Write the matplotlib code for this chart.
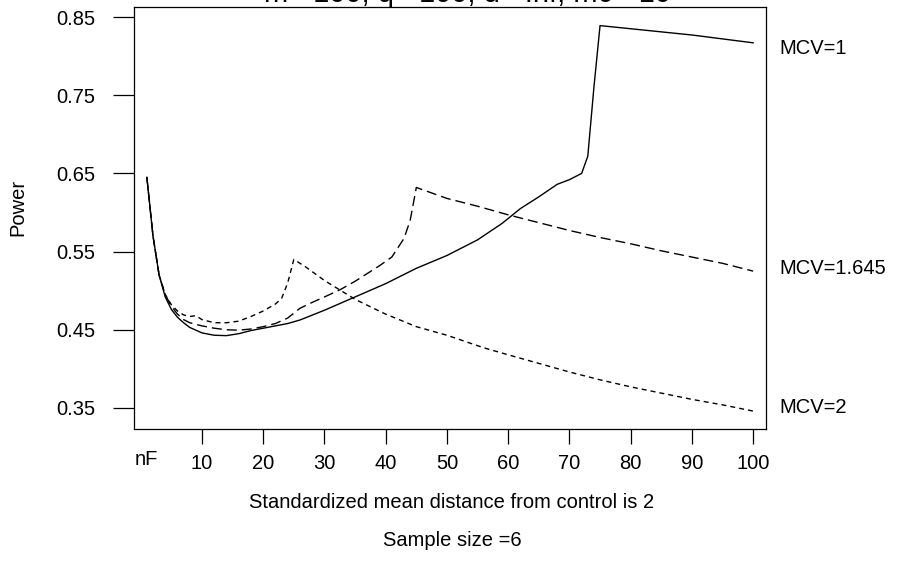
import matplotlib
matplotlib.use("Agg")
import matplotlib.pyplot as plt

plt.rcParams['font.family'] = ['Liberation Sans', 'DejaVu Sans']

# ---- data ----
x_mcv1 = [1, 2, 3, 4, 5, 6, 7, 8, 10, 12, 14, 16, 18, 20, 22, 24, 26, 30, 35, 40, 45,
          50, 55, 59, 62, 65, 68, 70, 72, 73, 74, 75, 80, 85, 90, 95, 100]
y_mcv1 = [0.645, 0.570, 0.520, 0.492, 0.476, 0.466, 0.459, 0.453, 0.446, 0.443, 0.4425,
          0.445, 0.449, 0.452, 0.455, 0.458, 0.4625, 0.475, 0.492, 0.509, 0.5286,
          0.545, 0.565, 0.586, 0.605, 0.620, 0.636, 0.642, 0.650, 0.672, 0.760, 0.839,
          0.835, 0.831, 0.827, 0.822, 0.817]

x_mcv1645 = [1, 2, 3, 4, 5, 6, 7, 8, 10, 12, 14, 16, 18, 20, 22, 24, 26, 28, 30, 32.5,
             35, 37, 39, 41, 43, 44, 45, 50, 55, 60, 65, 70, 75, 80, 85, 90, 95, 100]
y_mcv1645 = [0.645, 0.570, 0.520, 0.495, 0.480, 0.470, 0.463, 0.459, 0.455, 0.452,
             0.450, 0.4495, 0.451, 0.454, 0.458, 0.465, 0.4775, 0.485, 0.492, 0.501,
             0.512, 0.522, 0.532, 0.543, 0.567, 0.590, 0.632, 0.618, 0.608, 0.597,
             0.587, 0.577, 0.568, 0.560, 0.551, 0.543, 0.535, 0.525]

x_mcv2 = [1, 2, 3, 4, 5, 6, 7, 8, 9, 10, 12, 14, 16, 18, 20, 22, 23, 24, 25, 27, 30,
          32.5, 35, 38, 40, 45, 50, 56, 60, 65, 70, 75, 80, 85, 90, 95, 100]
y_mcv2 = [0.645, 0.570, 0.520, 0.495, 0.482, 0.474, 0.469, 0.467, 0.468, 0.463, 0.459,
          0.459, 0.461, 0.467, 0.474, 0.483, 0.490, 0.510, 0.540, 0.530, 0.513, 0.501,
          0.489, 0.4775, 0.470, 0.454, 0.443, 0.427, 0.418, 0.407, 0.396, 0.386, 0.377,
          0.369, 0.361, 0.354, 0.346]

series_labels = ["MCV=1", "MCV=1.645", "MCV=2"]
label_y = [0.810, 0.529, 0.350]

x_ticks = [10, 20, 30, 40, 50, 60, 70, 80, 90, 100]
y_ticks = [0.35, 0.45, 0.55, 0.65, 0.75, 0.85]

title = "m= 100, q= 100, d= Inf, m0= 10"
xlabel1 = "Standardized mean distance from control is 2"
xlabel2 = "Sample size =6"

# ---- figure ----
W, H = 900, 567
fig = plt.figure(figsize=(9, 5.67), dpi=100)
ax = fig.add_axes([134 / W, 1 - 429 / H, (766 - 134) / W, (429 - 7) / H])

lw = 1.0
ax.plot(x_mcv1, y_mcv1, color='black', lw=lw, solid_joinstyle='round')
ax.plot(x_mcv1645, y_mcv1645, color='black', lw=lw, dashes=(7.2, 3.6))
ax.plot(x_mcv2, y_mcv2, color='black', lw=lw, dashes=(3.6, 2.9))

ax.set_xlim(-1.1, 102.1)
ax.set_ylim(0.3231, 0.8628)

fs = 14.5
ax.set_xticks(x_ticks)
ax.set_xticklabels([str(t) for t in x_ticks], fontsize=fs)
ax.set_yticks(y_ticks)
ax.set_yticklabels([f"{t:.2f}" for t in y_ticks], fontsize=fs)
ax.tick_params(axis='x', direction='out', length=11, width=0.9, pad=7)
ax.tick_params(axis='y', direction='out', length=15, width=0.9, pad=13)
for s in ax.spines.values():
    s.set_linewidth(0.9)

# 'nF' label under x = 1 (no tick)
ax.text(1, -0.072, "nF", transform=ax.get_xaxis_transform(), ha='center', va='center',
        fontsize=fs)

# series labels at the right
blend = matplotlib.transforms.blended_transform_factory(fig.transFigure, ax.transData)
for lab, yy in zip(series_labels, label_y):
    ax.text(779 / W, yy, lab, transform=blend, ha='left', va='center', fontsize=fs)

fig.text(18 / W, 1 - 207 / H, "Power", rotation=90, ha='center', va='center', fontsize=fs)
fig.text(452 / W, 1 - 503 / H, xlabel1, ha='center', va='center', fontsize=fs)
fig.text(452 / W, 1 - 541 / H, xlabel2, ha='center', va='center', fontsize=fs)
fig.text(467 / W, 1 - 2.5 / H, title, ha='center', va='baseline', fontsize=21)

fig.savefig("out.png", dpi=100)
